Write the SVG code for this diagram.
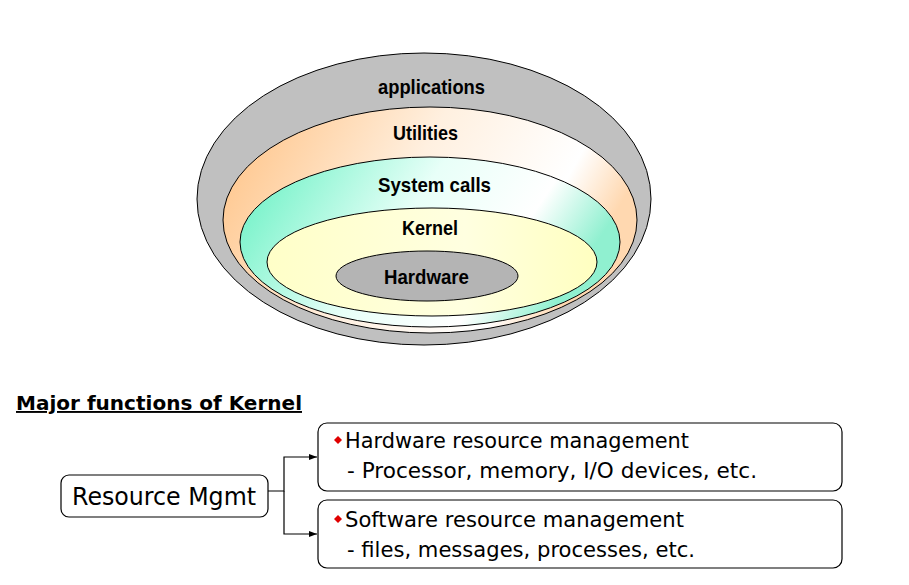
<svg xmlns="http://www.w3.org/2000/svg" width="909" height="585" viewBox="0 0 909 585">
<defs>
<linearGradient id="gUtil" x1="0" y1="0" x2="1" y2="0.3">
<stop offset="0" stop-color="#FFC080"/>
<stop offset="0.5" stop-color="#FFF0E0"/>
<stop offset="0.85" stop-color="#FFFFFF"/>
<stop offset="1" stop-color="#FFD8B0"/>
</linearGradient>
<linearGradient id="gSys" x1="0" y1="0" x2="1" y2="0.3">
<stop offset="0" stop-color="#60F0C0"/>
<stop offset="0.5" stop-color="#E8FFF8"/>
<stop offset="0.8" stop-color="#FFFFFF"/>
<stop offset="1" stop-color="#90F0D0"/>
</linearGradient>
<linearGradient id="gKer" x1="0" y1="0" x2="1" y2="0">
<stop offset="0" stop-color="#FFFFC8"/>
<stop offset="0.6" stop-color="#FFFFE0"/>
<stop offset="1" stop-color="#FFFFC0"/>
</linearGradient>
<marker id="arr" markerWidth="8" markerHeight="6" refX="8" refY="3" orient="auto" markerUnits="userSpaceOnUse">
<path d="M0,0 L8,3 L0,6 z" fill="#000"/>
</marker>
<style>
.ring{stroke:#000;stroke-width:1}
.lbl{font-family:"Liberation Sans",Arial,sans-serif;font-weight:bold;font-size:21px;fill:#000}
.box{fill:#fff;stroke:#000;stroke-width:1.2}
.t{font-family:"DejaVu Sans","Liberation Sans",sans-serif;font-size:21px;fill:#000}
.conn{fill:none;stroke:#000;stroke-width:1.2}
</style>
</defs>
<rect width="909" height="585" fill="#fff"/>
<g id="applications">
<ellipse class="ring" cx="424" cy="199" rx="227" ry="146" fill="#C0C0C0"/>
<text class="lbl" x="378" y="94" textLength="107" lengthAdjust="spacingAndGlyphs">applications</text>
</g>
<g id="utilities">
<ellipse class="ring" cx="430" cy="220" rx="207" ry="113" fill="url(#gUtil)"/>
<text class="lbl" x="393" y="140" textLength="65" lengthAdjust="spacingAndGlyphs">Utilities</text>
</g>
<g id="system-calls">
<ellipse class="ring" cx="430" cy="242" rx="190" ry="85" fill="url(#gSys)"/>
<text class="lbl" x="378" y="192" textLength="113" lengthAdjust="spacingAndGlyphs">System calls</text>
</g>
<g id="kernel">
<ellipse class="ring" cx="432" cy="262" rx="165" ry="54" fill="url(#gKer)"/>
<text class="lbl" x="402" y="235" textLength="56" lengthAdjust="spacingAndGlyphs">Kernel</text>
</g>
<g id="hardware">
<ellipse class="ring" cx="427" cy="276" rx="91" ry="25" fill="#B4B4B4"/>
<text class="lbl" x="384" y="284" textLength="85" lengthAdjust="spacingAndGlyphs">Hardware</text>
</g>
<g id="title">
<text x="16" y="410" textLength="286" lengthAdjust="spacingAndGlyphs" style="font-family:'DejaVu Sans','Liberation Sans',sans-serif;font-size:19px;font-weight:bold" text-decoration="underline">Major functions of Kernel</text>
</g>
<g id="resource-mgmt">
<rect class="box" x="61" y="475" width="207" height="42" rx="8"/>
<text class="t" x="72" y="505" textLength="184" lengthAdjust="spacingAndGlyphs" style="font-size:24px">Resource Mgmt</text>
</g>
<g id="hw-mgmt">
<rect class="box" x="318" y="423" width="524" height="68" rx="9"/>
<path d="M338,436 L342,440 L338,444 L334,440 z" fill="#E00000"/>
<text class="t" x="345" y="448" textLength="344" lengthAdjust="spacingAndGlyphs">Hardware resource management</text>
<text class="t" x="347" y="478" textLength="410" lengthAdjust="spacingAndGlyphs">- Processor, memory, I/O devices, etc.</text>
</g>
<g id="sw-mgmt">
<rect class="box" x="318" y="500" width="524" height="68" rx="9"/>
<path d="M338,515 L342,519 L338,523 L334,519 z" fill="#E00000"/>
<text class="t" x="345" y="527" textLength="339" lengthAdjust="spacingAndGlyphs">Software resource management</text>
<text class="t" x="347" y="557" textLength="348" lengthAdjust="spacingAndGlyphs">- files, messages, processes, etc.</text>
</g>
<g id="connectors">
<path class="conn" d="M268,491 H284 V457 H317" marker-end="url(#arr)"/>
<path class="conn" d="M284,491 V534 H317" marker-end="url(#arr)"/>
</g>
</svg>
